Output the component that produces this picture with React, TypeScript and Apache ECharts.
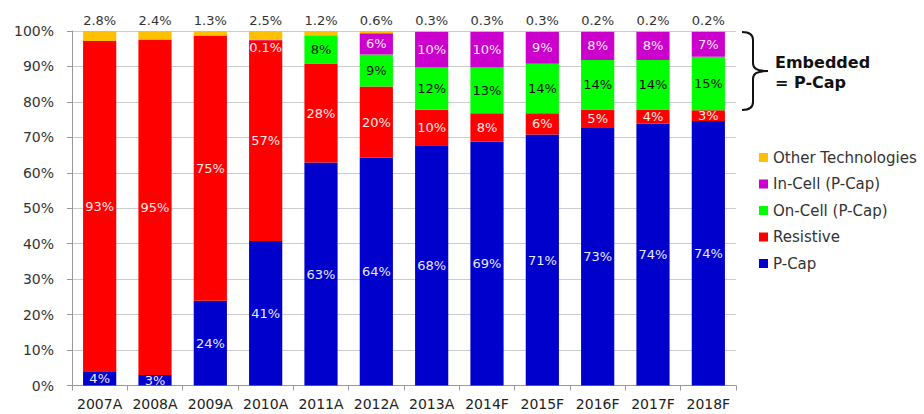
import React, { useEffect, useRef } from "react";
import * as echarts from "echarts";

const categories = ["2007A", "2008A", "2009A", "2010A", "2011A", "2012A", "2013A", "2014F", "2015F", "2016F", "2017F", "2018F"];
const pCap = [4, 3, 24, 41, 63, 64, 68, 69, 71, 73, 74, 74];
const resistive = [93, 95, 75, 57, 28, 20, 10, 8, 6, 5, 4, 3];
const onCell = [0, 0, 0, 0, 8, 9, 12, 13, 14, 14, 14, 15];
const inCell = [0, 0, 0, 0.1, 0, 6, 10, 10, 9, 8, 8, 7];
const other = [2.8, 2.4, 1.3, 2.5, 1.2, 0.6, 0.3, 0.3, 0.3, 0.2, 0.2, 0.2];
const yTicks = [0, 10, 20, 30, 40, 50, 60, 70, 80, 90, 100];

const FONT = "DejaVu Sans";

const bracketPath =
  "M0,0 C7,0 11,2 11,8 L11,31 C11,36 14,39 26,39 C14,39 11,42 11,47 L11,70 C11,76 7,78 0,78";

export default function App() {
  const ref = useRef<HTMLDivElement>(null);
  useEffect(() => {
    if (!ref.current) return;
    echarts.graphic.registerShape("bracket", echarts.graphic.extendPath(bracketPath, {}));
    const chart = echarts.init(ref.current, undefined, { renderer: "svg" });
    // 100% stacked: each column is scaled to 100, labels show the raw shares
    const totals = categories.map((_, i) => pCap[i] + resistive[i] + onCell[i] + inCell[i] + other[i]);
    const toData = (arr: number[], extra?: (v: number) => any) =>
      arr.map((v, i) => {
        const item: any = { value: (v / totals[i]) * 100, raw: v };
        if (extra) Object.assign(item, extra(v));
        return item;
      });
    const fmt = (p: any) => (p.data.raw ? p.data.raw + "%" : "");
    const mk = (name: string, data: any[], color: string, labelColor: string) => ({
      name,
      type: "bar",
      stack: "total",
      data,
      barWidth: "60%",
      itemStyle: { color },
      label: {
        show: true,
        position: "inside",
        color: labelColor,
        fontFamily: FONT,
        fontSize: 13,
        formatter: fmt,
      },
    });
    chart.setOption({
      animation: false,
      grid: { left: 72, right: 188, top: 31, bottom: 28.5, containLabel: false },
      legend: {
        orient: "vertical",
        left: 754,
        top: 145,
        itemWidth: 9,
        itemHeight: 9,
        itemGap: 11.5,
        icon: "rect",
        textStyle: { fontFamily: FONT, fontSize: 15, color: "#333" },
        data: ["Other Technologies", "In-Cell (P-Cap)", "On-Cell (P-Cap)", "Resistive", "P-Cap"],
      },
      xAxis: {
        type: "category",
        data: categories,
        axisLine: { lineStyle: { color: "#999" } },
        axisTick: { show: true, length: 5, lineStyle: { color: "#999" } },
        axisLabel: { interval: 0, fontFamily: FONT, fontSize: 14, color: "#222", margin: 11 },
      },
      yAxis: {
        type: "value",
        min: yTicks[0],
        max: yTicks[yTicks.length - 1],
        interval: 10,
        axisLine: { show: true, lineStyle: { color: "#999" } },
        axisTick: { show: true, length: 5, lineStyle: { color: "#999" } },
        splitLine: { lineStyle: { color: "#ccc" } },
        axisLabel: { fontFamily: FONT, fontSize: 14, color: "#333", margin: 18, formatter: "{value}%" },
      },
      series: [
        mk("P-Cap", toData(pCap), "#0000CC", "#e8e8ff"),
        mk("Resistive", toData(resistive), "#FF0000", "#ffe8e8"),
        mk("On-Cell (P-Cap)", toData(onCell), "#00FF00", "#111"),
        mk(
          "In-Cell (P-Cap)",
          toData(inCell, (v) => (v > 0 && v < 1 ? { label: { position: "bottom", distance: 1 } } : {})),
          "#CC00CC",
          "#ffe8ff"
        ),
        {
          name: "Other Technologies",
          type: "bar",
          stack: "total",
          data: toData(other),
          barWidth: "60%",
          itemStyle: { color: "#FFC000" },
          label: {
            show: true,
            position: "top",
            distance: 4,
            color: "#333",
            fontFamily: FONT,
            fontSize: 13,
            formatter: (p: any) => p.data.raw + "%",
          },
        },
      ],
      graphic: [
        {
          type: "bracket",
          x: 742,
          y: 32,
          shape: {},
          style: { stroke: "#111", lineWidth: 2, fill: "none" },
        },
        {
          type: "text",
          x: 775,
          y: 62,
          style: { text: "Embedded", fontFamily: FONT, fontWeight: "bold", fontSize: 16, fill: "#111", verticalAlign: "middle" },
        },
        {
          type: "text",
          x: 775,
          y: 82,
          style: { text: "= P-Cap", fontFamily: FONT, fontWeight: "bold", fontSize: 16, fill: "#111", verticalAlign: "middle" },
        },
      ],
    });
    return () => chart.dispose();
  }, []);
  return <div ref={ref} style={{ width: 924, height: 414, position: "absolute", left: 0, top: 0 }} />;
}
